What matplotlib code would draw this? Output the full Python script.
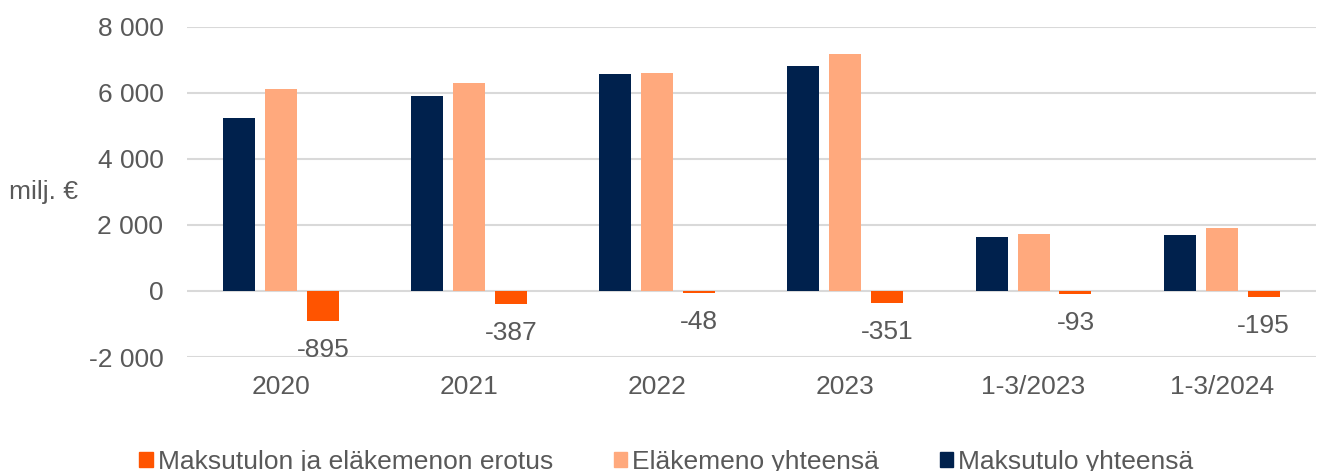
import matplotlib.pyplot as plt
import numpy as np
from matplotlib.patches import Patch

categories = ['2020', '2021', '2022', '2023', '1-3/2023', '1-3/2024']
maksutulo = [5230, 5920, 6560, 6820, 1640, 1700]
elakemeno = [6125, 6307, 6608, 7171, 1733, 1895]
erotus = [-895, -387, -48, -351, -93, -195]

c_navy = '#00214d'
c_peach = '#ffa97d'
c_orange = '#ff5400'
c_text = '#595959'

plt.rcParams['font.family'] = ['Liberation Sans', 'DejaVu Sans']

fig = plt.figure(figsize=(13.17, 4.71), dpi=100)
ax = fig.add_axes([0.142, 0.242, 0.857, 0.701])

x = np.arange(len(categories))
w = 0.17
step = 0.223
ax.bar(x - step, maksutulo, w, color=c_navy, zorder=3)
ax.bar(x, elakemeno, w, color=c_peach, zorder=3)
ax.bar(x + step, erotus, w, color=c_orange, zorder=3)

for xi, v in zip(x, erotus):
    ax.text(xi + step, v - 880, f'{v}', ha='center', va='center',
            fontsize=19, color=c_text)

ax.set_xlim(-0.5, len(categories) - 0.5)
ax.set_ylim(-2000, 8000)
ax.set_yticks(np.arange(-2000, 8001, 2000))
ax.set_yticklabels([f'{t:,}'.replace(',', ' ') for t in range(-2000, 8001, 2000)])
ax.set_xticks(x)
ax.set_xticklabels(categories)
ax.tick_params(length=0, labelsize=19, colors=c_text)
ax.tick_params(axis='y', pad=17)
ax.tick_params(axis='x', pad=13)
for s in ax.spines.values():
    s.set_visible(False)
ax.grid(True, axis='y', color='#d9d9d9', linewidth=1.5, zorder=0)

fig.text(0.007, 0.592, 'milj. €', fontsize=19, color=c_text, va='center', ha='left')

handles = [Patch(color=c_orange), Patch(color=c_peach), Patch(color=c_navy)]
labels = ['Maksutulon ja eläkemenon erotus', 'Eläkemeno yhteensä', 'Maksutulo yhteensä']
fig.legend(handles, labels, loc='center', bbox_to_anchor=(0.506, 0.02), ncol=3,
           frameon=False, fontsize=19, handlelength=0.5, handleheight=0.5,
           handletextpad=0.2, columnspacing=2.3, labelcolor=c_text)

plt.savefig('out.png', dpi=100)
